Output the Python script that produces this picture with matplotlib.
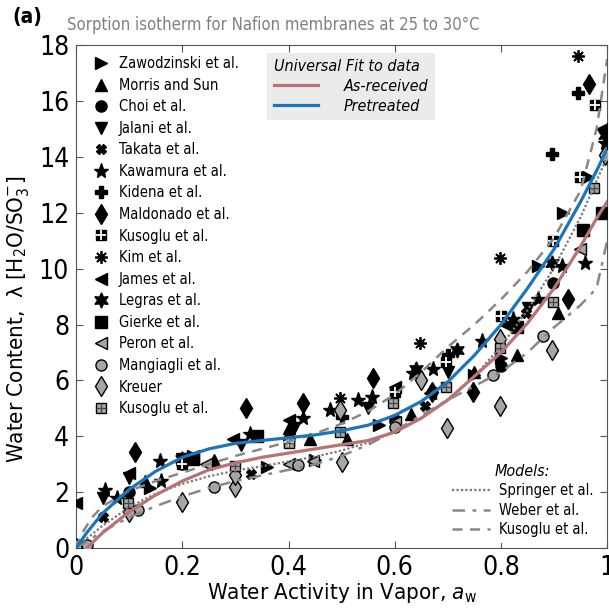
import matplotlib
matplotlib.use("Agg")
import matplotlib.pyplot as plt
from matplotlib import font_manager as fm

# pick a narrow sans font, like the Myriad used in the original figure
avail = {(f.name, f.stretch) for f in fm.fontManager.ttflist}
names = {n for n, s in avail}
if "Liberation Sans Narrow" in names:
    base_font, stretch = "Liberation Sans Narrow", "normal"
elif ("DejaVu Sans", "condensed") in avail:
    base_font, stretch = "DejaVu Sans", "condensed"
else:
    base_font, stretch = "Roboto", "normal"
plt.rcParams['font.family'] = [base_font, 'DejaVu Sans']
plt.rcParams['font.stretch'] = stretch
plt.rcParams['mathtext.fontset'] = 'custom'
plt.rcParams['mathtext.rm'] = base_font
plt.rcParams['mathtext.it'] = base_font + ':italic'

# --- measured data (water activity, lambda) ---
zawodzinski_x = [0.14, 0.22, 0.36, 0.45, 0.57, 0.75, 0.80, 0.87, 0.917, 0.963]
zawodzinski_y = [2.15, 3.3, 2.9, 3.15, 4.4, 6.2, 6.8, 10.1, 12.0, 13.3]
morris_x = [0.0, 0.13, 0.26, 0.40, 0.44, 0.51, 0.63, 0.75, 0.83, 0.907]
morris_y = [0.05, 2.4, 3.15, 4.3, 3.9, 3.9, 4.8, 6.3, 6.9, 8.4]
choi_x = [0.0, 0.1, 0.2, 0.4, 0.6, 0.8, 0.898]
choi_y = [0.0, 2.0, 3.0, 3.9, 4.6, 6.5, 9.5]
jalani_x = [0.05, 0.1, 0.2, 0.31, 0.41, 0.55, 0.70, 0.85]
jalani_y = [1.8, 2.5, 3.2, 3.7, 4.3, 5.0, 6.3, 8.6]
takata_x = [0.05, 0.2, 0.33, 0.657, 0.848]
takata_y = [1.1, 3.0, 2.65, 5.1, 8.4]
kawamura_x = [0.055, 0.077, 0.158, 0.16, 0.327, 0.427, 0.478, 0.53, 0.557,
              0.635, 0.672, 0.764, 0.823, 0.87, 0.914, 0.958, 0.995]
kawamura_y = [2.07, 1.8, 3.1, 2.4, 4.1, 4.65, 4.94, 5.3, 5.4,
              6.26, 6.4, 7.4, 8.2, 8.9, 10.1, 10.2, 14.5]
kidena_x = [0.0, 0.5, 0.7, 0.897, 0.946]
kidena_y = [0.05, 4.7, 6.9, 14.1, 16.3]
maldonado_x = [0.111, 0.32, 0.427, 0.559, 0.67, 0.747, 0.926, 0.965]
maldonado_y = [3.45, 5.0, 5.2, 6.08, 5.6, 5.6, 8.9, 16.6]
kusoglu_x = [0.0, 0.2, 0.4, 0.6, 0.697, 0.80, 0.898, 0.948, 0.978]
kusoglu_y = [0.0, 3.0, 3.8, 5.6, 6.65, 8.3, 11.0, 13.3, 15.85]
kim_x = [0.497, 0.647, 0.798, 0.946]
kim_y = [5.36, 7.33, 10.4, 17.6]
james_x = [0.0, 0.1, 0.22, 0.296, 0.40, 0.60, 0.666, 0.81, 0.99]
james_y = [1.6, 2.7, 3.3, 3.9, 4.6, 5.76, 5.55, 8.0, 15.0]
legras_x = [0.0, 0.2, 0.64, 0.717, 0.896, 0.995]
legras_y = [0.0, 3.2, 6.4, 7.1, 10.2, 14.8]
gierke_x = [0.22, 0.34, 0.83, 0.954, 0.99]
gierke_y = [3.2, 4.0, 7.9, 11.4, 12.0]
peron_x = [0.0, 0.245, 0.40, 0.446, 0.60, 0.948]
peron_y = [0.0, 3.0, 3.0, 3.1, 4.5, 10.7]
mangiagli_x = [0.02, 0.117, 0.26, 0.418, 0.6, 0.785, 0.879]
mangiagli_y = [0.1, 1.35, 2.2, 2.97, 4.35, 6.2, 7.6]
kreuer_x = [0.0, 0.10, 0.2, 0.3, 0.3, 0.497, 0.5, 0.65, 0.698, 0.798, 0.798, 0.897, 0.995]
kreuer_y = [0.0, 1.3, 1.65, 2.2, 2.6, 4.94, 3.08, 6.0, 4.3, 7.5, 5.1, 7.1, 14.06]
kusoglu2_x = [0.0, 0.098, 0.30, 0.40, 0.497, 0.597, 0.697, 0.798, 0.898, 0.976]
kusoglu2_y = [0.0, 1.6, 2.95, 3.75, 4.15, 5.2, 5.77, 7.15, 8.8, 12.9]

# --- universal fits ---
pre_x = [0, 0.02, 0.05, 0.1, 0.15, 0.2, 0.25, 0.3, 0.35, 0.4, 0.45, 0.5, 0.55,
         0.6, 0.65, 0.7, 0.75, 0.8, 0.85, 0.9, 0.95, 0.98, 1.0]
pre_y = [0, 0.55, 1.25, 2.1, 2.75, 3.25, 3.55, 3.75, 3.85, 3.95, 4.05, 4.2, 4.4,
         4.75, 5.25, 5.95, 6.9, 8.0, 9.3, 10.7, 12.4, 13.5, 14.3]
asr_x = [0.02, 0.05, 0.1, 0.15, 0.2, 0.25, 0.3, 0.35, 0.4, 0.45, 0.5, 0.55,
         0.6, 0.65, 0.7, 0.75, 0.8, 0.85, 0.9, 0.95, 0.98, 1.0]
asr_y = [0, 0.55, 1.3, 1.9, 2.4, 2.8, 3.05, 3.25, 3.4, 3.55, 3.7, 3.85,
         4.15, 4.65, 5.3, 6.15, 7.0, 8.05, 9.3, 10.8, 11.8, 12.4]

# --- models ---
springer_x = [0, 0.05, 0.1, 0.15, 0.2, 0.25, 0.3, 0.35, 0.4, 0.45, 0.5, 0.55,
              0.6, 0.65, 0.7, 0.75, 0.8, 0.85, 0.9, 0.95, 1.0]
springer_y = [0.04, 0.8, 1.46, 1.95, 2.3, 2.57, 2.77, 2.93, 3.1, 3.27, 3.49, 3.78,
              4.16, 4.66, 5.33, 6.15, 7.22, 8.51, 10.04, 11.85, 14.0]
weber_x = [0, 0.05, 0.1, 0.15, 0.2, 0.25, 0.3, 0.35, 0.4, 0.45, 0.5, 0.55,
           0.6, 0.65, 0.7, 0.75, 0.8, 0.85, 0.9, 0.95, 0.98, 1.0]
weber_y = [0, 0.6, 1.1, 1.5, 1.85, 2.15, 2.4, 2.6, 2.8, 3.0, 3.3, 3.7,
           4.2, 4.75, 5.3, 5.8, 6.3, 7.0, 7.9, 8.7, 9.3, 11.0]
kmodel_x = [0, 0.01, 0.03, 0.05, 0.1, 0.15, 0.2, 0.25, 0.3, 0.35, 0.4, 0.45, 0.5,
            0.55, 0.6, 0.65, 0.7, 0.75, 0.8, 0.85, 0.9, 0.95, 0.98, 1.0]
kmodel_y = [0, 0.5, 1.1, 1.5, 2.05, 2.4, 2.7, 3.0, 3.3, 3.55, 3.8, 4.1, 4.45,
            4.9, 5.5, 6.3, 7.2, 8.0, 8.9, 9.9, 11.1, 12.8, 15.0, 17.5]

fig = plt.figure(figsize=(6.09, 6.11), dpi=100)
ax = fig.add_axes([0.125, 0.103, 0.872, 0.823])

blk = dict(color="black", linestyle="none", markeredgecolor="black", zorder=3)
gry = dict(color="#a6a6a6", linestyle="none", markeredgecolor="black",
           markeredgewidth=1.0, zorder=3)

h = []
h.append(ax.plot(zawodzinski_x, zawodzinski_y, marker=">", ms=9, **blk)[0])
h.append(ax.plot(morris_x, morris_y, marker="^", ms=9, **blk)[0])
h.append(ax.plot(choi_x, choi_y, marker="o", ms=8, **blk)[0])
h.append(ax.plot(jalani_x, jalani_y, marker="v", ms=9, **blk)[0])
h.append(ax.plot(takata_x, takata_y, marker="X", ms=7, **blk)[0])
h.append(ax.plot(kawamura_x, kawamura_y, marker="*", ms=11, **blk)[0])
h.append(ax.plot(kidena_x, kidena_y, marker="P", ms=8, **blk)[0])
h.append(ax.plot(maldonado_x, maldonado_y, marker="d", ms=10, **blk)[0])
sq = ax.plot(kusoglu_x, kusoglu_y, marker="s", ms=7, **blk)[0]
pl = ax.plot(kusoglu_x, kusoglu_y, marker="+", ms=7, mew=1.3, color="white",
             linestyle="none", zorder=3.1)[0]
h.append((sq, pl))
h.append(ax.plot(kim_x, kim_y, marker=(8, 2, 0), ms=9, mew=1.3, **blk)[0])
h.append(ax.plot(james_x, james_y, marker="<", ms=9, **blk)[0])
h.append(ax.plot(legras_x, legras_y, marker=(6, 1, 0), ms=11, **blk)[0])
h.append(ax.plot(gierke_x, gierke_y, marker="s", ms=8, **blk)[0])
h.append(ax.plot(peron_x, peron_y, marker="<", ms=9, **gry)[0])
h.append(ax.plot(mangiagli_x, mangiagli_y, marker="o", ms=8, **gry)[0])
h.append(ax.plot(kreuer_x, kreuer_y, marker="d", ms=10, **gry)[0])
sq2 = ax.plot(kusoglu2_x, kusoglu2_y, marker="s", ms=7, **gry)[0]
pl2 = ax.plot(kusoglu2_x, kusoglu2_y, marker="+", ms=7, mew=0.9, color="#444444",
              linestyle="none", zorder=3.1)[0]
h.append((sq2, pl2))

labels = ["Zawodzinski et al.", "Morris and Sun", "Choi et al.", "Jalani et al.",
          "Takata et al.", "Kawamura et al.", "Kidena et al.", "Maldonado et al.",
          "Kusoglu et al.", "Kim et al.", "James et al.", "Legras et al.",
          "Gierke et al.", "Peron et al.", "Mangiagli et al.", "Kreuer",
          "Kusoglu et al."]

# model curves
l_spr, = ax.plot(springer_x, springer_y, color="#777777", lw=1.6, ls=(0, (1, 1)), zorder=4)
l_web, = ax.plot(weber_x, weber_y, color="#888888", lw=1.8, ls=(0, (5, 3, 1.5, 3)), zorder=4)
l_kus, = ax.plot(kmodel_x, kmodel_y, color="#888888", lw=1.8, ls=(0, (4, 3)), zorder=4)

# universal fits
l_asr, = ax.plot(asr_x, asr_y, color="#b87474", lw=2.3, zorder=5)
l_pre, = ax.plot(pre_x, pre_y, color="#1b75bb", lw=2.3, zorder=5)

ax.set_xlim(0, 1)
ax.set_ylim(0, 18)
ax.set_xticks([0, 0.2, 0.4, 0.6, 0.8, 1])
ax.set_xticklabels(["0", "0.2", "0.4", "0.6", "0.8", "1"])
ax.set_yticks(range(0, 19, 2))
ax.tick_params(direction="in", length=5, top=True, right=True, labelsize=19,
               color="#555555", pad=5)
for s in ax.spines.values():
    s.set_color("#555555")

ax.set_xlabel("Water Activity in Vapor, $a_\\mathrm{w}$", fontsize=16, labelpad=0)
ax.set_ylabel("Water Content,  \u03bb [H$_2$O/SO$_3^{-}$]", fontsize=16)
ax.yaxis.set_label_coords(-0.085, 0.455)

leg1 = ax.legend(h, labels, loc="upper left", bbox_to_anchor=(0.02, 0.99),
                 frameon=False, fontsize=10.5, handlelength=1.2, handletextpad=0.6,
                 labelspacing=0.45, borderaxespad=0)
ax.add_artist(leg1)

leg2 = ax.legend([l_asr, l_pre], ["As-received", "Pretreated"], loc="upper left",
                 bbox_to_anchor=(0.36, 0.985), title="Universal Fit to data",
                 prop={"style": "italic", "size": 11.5}, handlelength=2.8,
                 handletextpad=1.6, labelspacing=0.3, fancybox=False, framealpha=1,
                 facecolor="#ebebeb", edgecolor="none", borderaxespad=0)
leg2.get_title().set_fontsize(11.5)
leg2.get_title().set_fontstyle("italic")
leg2._legend_box.align = "left"
ax.add_artist(leg2)

leg3 = ax.legend([l_spr, l_web, l_kus], ["Springer et al.", "Weber et al.", "Kusoglu et al."],
                 loc="lower right", bbox_to_anchor=(0.985, 0.01), title="Models:",
                 fontsize=10.5, handlelength=2.6, handletextpad=0.6, labelspacing=0.3,
                 fancybox=False, framealpha=1, facecolor="white", edgecolor="none",
                 borderaxespad=0)
leg3.get_title().set_fontsize(11.5)
leg3.get_title().set_fontstyle("italic")

fig.text(0.11, 0.945, "Sorption isotherm for Nafion membranes at 25 to 30\u00b0C",
         fontsize=12, color="#808080", ha="left", va="bottom")
fig.text(0.02, 0.955, "(a)", fontsize=15, fontweight="bold", ha="left", va="bottom")

fig.savefig("out.png", dpi=100)
